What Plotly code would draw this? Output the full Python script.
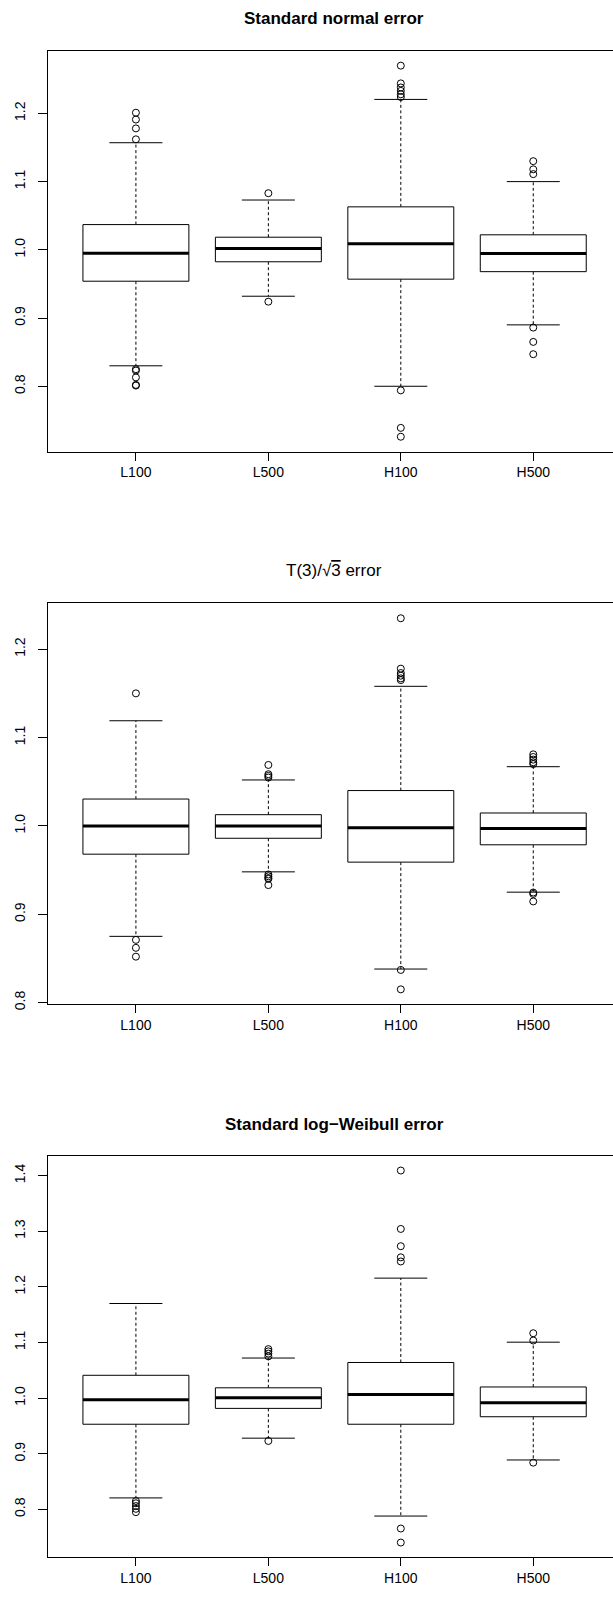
import plotly.graph_objects as go

# ---------------- data ----------------
categories = ["L100", "L500", "H100", "H500"]
positions = [1, 2, 3, 4]

titles = ["<b>Standard normal error</b>",
          "T(3)/√<span style=\"text-decoration:overline\">3</span> error",
          "<b>Standard log\u2212Weibull error</b>"]

# Panel 1: standard normal error
normal_q1 = [0.954, 0.9825, 0.957, 0.968]
normal_med = [0.995, 1.002, 1.009, 0.9946]
normal_q3 = [1.037, 1.0185, 1.063, 1.022]
normal_lo = [0.830, 0.932, 0.800, 0.890]
normal_hi = [1.157, 1.073, 1.2205, 1.100]
normal_out = [
    [1.201, 1.191, 1.178, 1.162, 0.825, 0.823, 0.813, 0.802, 0.801],
    [1.083, 0.924],
    [1.270, 1.244, 1.238, 1.233, 1.228, 1.224, 0.794, 0.739, 0.726],
    [1.130, 1.118, 1.111, 0.886, 0.865, 0.847],
]

# Panel 2: T(3)/sqrt(3) error
t_q1 = [0.968, 0.986, 0.959, 0.9786]
t_med = [1.000, 1.000, 0.998, 0.997]
t_q3 = [1.0304, 1.0127, 1.040, 1.0146]
t_lo = [0.875, 0.948, 0.838, 0.925]
t_hi = [1.119, 1.052, 1.158, 1.067]
t_out = [
    [1.150, 0.871, 0.862, 0.852],
    [1.069, 1.0585, 1.0566, 1.0547, 0.945, 0.943, 0.941, 0.940, 0.933],
    [1.235, 1.178, 1.173, 1.170, 1.167, 1.165, 0.837, 0.815],
    [1.081, 1.078, 1.075, 1.072, 1.070, 0.9246, 0.923, 0.9145],
]

# Panel 3: standard log-Weibull error
w_q1 = [0.953, 0.9815, 0.953, 0.9665]
w_med = [0.997, 1.0006, 1.0066, 0.9916]
w_q3 = [1.041, 1.0185, 1.064, 1.020]
w_lo = [0.8206, 0.928, 0.788, 0.8888]
w_hi = [1.170, 1.072, 1.2156, 1.1005]
w_out = [
    [0.815, 0.811, 0.806, 0.801, 0.795],
    [1.088, 1.084, 1.080, 1.075, 0.923],
    [1.409, 1.304, 1.273, 1.253, 1.2455, 0.7656, 0.7404],
    [1.1166, 1.1035, 0.884],
]

panels = [
    (normal_q1, normal_med, normal_q3, normal_lo, normal_hi, normal_out),
    (t_q1, t_med, t_q3, t_lo, t_hi, t_out),
    (w_q1, w_med, w_q3, w_lo, w_hi, w_out),
]

# ---------------- style / layout ----------------
W, H = 613, 1597
FONT = "Liberation Sans, Arial, Helvetica, sans-serif"
BOXW = 0.4     # half box width (boxwex 0.8)
STAPLE = 0.2   # half staple width
y_domains = [[0.71616, 0.96807], [0.36882, 0.62073], [0.02110, 0.27364]]
title_y = [0.98854, 0.64139, 0.29349]
title_x = 0.5062
x_range = [0.3363, 4.602]

fig = go.Figure()
layout = dict(
    width=W, height=H,
    margin=dict(l=48, r=0, t=0, b=0),
    paper_bgcolor="white", plot_bgcolor="white",
    showlegend=False,
    font=dict(family=FONT, size=14, color="black"),
    annotations=[],
)

for i, (q1, med, q3, lo, hi, outs) in enumerate(panels):
    xa = "x" if i == 0 else f"x{i+1}"
    ya = "y" if i == 0 else f"y{i+1}"
    # whiskers (dashed)
    wx, wy = [], []
    sx, sy = [], []
    for c, a, b, l, h in zip(positions, q1, q3, lo, hi):
        wx += [c, c, None, c, c, None]
        wy += [b, h, None, a, l, None]
        sx += [c - STAPLE, c + STAPLE, None, c - STAPLE, c + STAPLE, None]
        sy += [h, h, None, l, l, None]
    fig.add_trace(go.Scatter(x=wx, y=wy, mode="lines", xaxis=xa, yaxis=ya,
                             line=dict(color="black", width=1, dash="3px,2.5px"),
                             hoverinfo="skip"))
    fig.add_trace(go.Scatter(x=sx, y=sy, mode="lines", xaxis=xa, yaxis=ya,
                             line=dict(color="black", width=1), hoverinfo="skip"))
    # boxes
    bx, by = [], []
    for c, a, b in zip(positions, q1, q3):
        bx += [c - BOXW, c + BOXW, c + BOXW, c - BOXW, c - BOXW, None]
        by += [a, a, b, b, a, None]
    fig.add_trace(go.Scatter(x=bx, y=by, mode="lines", xaxis=xa, yaxis=ya,
                             fill="toself", fillcolor="white",
                             line=dict(color="black", width=1), hoverinfo="skip"))
    # medians
    mx, my = [], []
    for c, m in zip(positions, med):
        mx += [c - BOXW, c + BOXW, None]
        my += [m, m, None]
    fig.add_trace(go.Scatter(x=mx, y=my, mode="lines", xaxis=xa, yaxis=ya,
                             line=dict(color="black", width=3), hoverinfo="skip"))
    # outliers
    ox, oy = [], []
    for c, o in zip(positions, outs):
        ox += [c] * len(o)
        oy += o
    fig.add_trace(go.Scatter(x=ox, y=oy, mode="markers", xaxis=xa, yaxis=ya,
                             marker=dict(symbol="circle-open", size=7, color="black",
                                         line=dict(width=1, color="black")),
                             hoverinfo="skip"))

    allv = lo + hi + [v for o in outs for v in o]
    vmin, vmax = min(allv), max(allv)
    pad = 0.04 * (vmax - vmin)

    xkey = "xaxis" if i == 0 else f"xaxis{i+1}"
    ykey = "yaxis" if i == 0 else f"yaxis{i+1}"
    layout[xkey] = dict(
        domain=[0, 1], anchor=ya, range=x_range,
        tickmode="array", tickvals=positions, ticktext=categories,
        ticks="outside", ticklen=8, tickwidth=1, tickcolor="black",
        showline=True, linecolor="black", linewidth=1, mirror=True,
        showgrid=False, zeroline=False, fixedrange=True,
        tickfont=dict(family=FONT, size=14, color="black"),
    )
    layout[ykey] = dict(
        domain=y_domains[i], anchor=xa, range=[vmin - pad, vmax + pad],
        tick0=0, dtick=0.1, tickformat=".1f",
        ticks="outside", ticklen=9, tickwidth=1, tickcolor="black",
        showline=True, linecolor="black", linewidth=1, mirror=False,
        showgrid=False, zeroline=False, fixedrange=True, tickangle=-90,
        ticklabelstandoff=7,
        tickfont=dict(family=FONT, size=14, color="black"),
    )
    layout["annotations"].append(dict(
        text=titles[i], x=title_x, y=title_y[i], xref="paper", yref="paper",
        xanchor="center", yanchor="middle", showarrow=False,
        font=dict(family=FONT, size=17, color="black"),
    ))

fig.update_layout(**layout)
fig.write_html("out.html", config={"displayModeBar": False})
